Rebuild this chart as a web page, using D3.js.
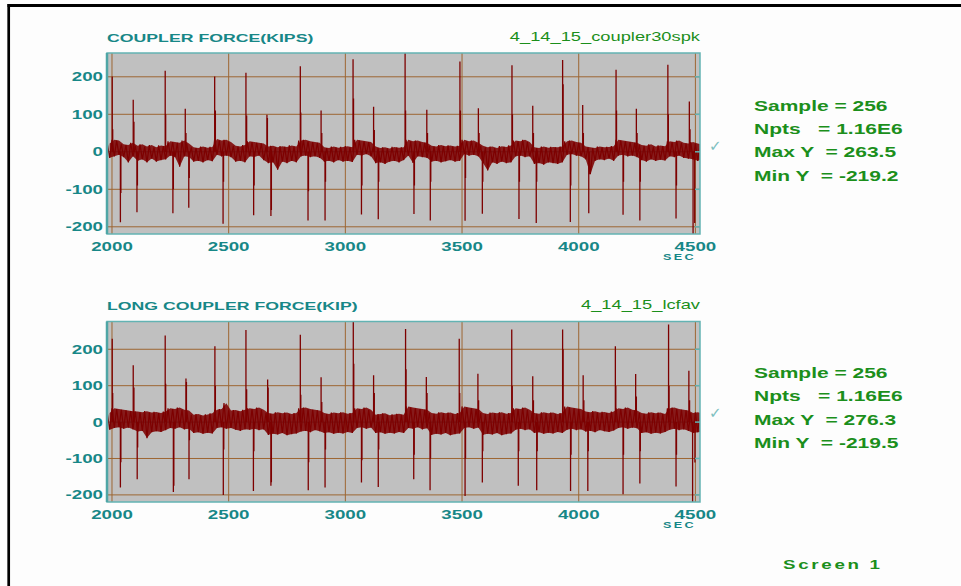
<!DOCTYPE html>
<html>
<head>
<meta charset="utf-8">
<script src="https://cdn.jsdelivr.net/npm/d3@7"></script>
<style>
  html, body { margin: 0; padding: 0; background: #fdfdfd; }
  svg { display: block; }
  text { white-space: pre; }
</style>
</head>
<body>
<svg id="chart" width="961" height="586"></svg>
<script>
// ---- data -------------------------------------------------------------
const xTicks = [2000, 2500, 3000, 3500, 4000, 4500];
const yTicks = [-200, -100, 0, 100, 200];
const timeDomain = [1978.6, 4519.7];

// background noise envelope, one high / low pair per 20 s window from 1980 s
const noiseStart = 1980;
const noiseStep = 20;

const couplerHi = [22, 32, 30, 20, 18, 24, 16, 20, 14, 18, 12, 17, 15, 28, 26, 24, 30, 22,
  12, 10, 14, 11, 13, 34, 30, 32, 26, 16, 14, 18, 28, 26, 24, 22, 14, 16, 12, 15, 13, 17, 14,
  30, 32, 28, 26, 24, 12, 10, 14, 11, 13, 15, 12, 32, 30, 28, 26, 14, 10, 12, 9, 13, 11, 12,
  32, 28, 30, 26, 24, 16, 14, 18, 15, 17, 14, 16, 32, 28, 30, 24, 16, 12, 14, 10, 15, 13, 17,
  30, 28, 32, 26, 12, 10, 14, 11, 13, 12, 14, 28, 30, 26, 24, 14, 12, 10, 14, 12, 13, 15,
  32, 30, 28, 26, 24, 18, 16, 20, 14, 17, 15, 28, 26, 30, 24, 22, 26, 22, 20];
const couplerLo = [-16, -12, -8, -14, -28, -12, -24, -20, -28, -18, -26, -22, -20, -10, -14, -40, -12, -14,
  -26, -24, -28, -22, -25, -8, -12, -10, -14, -26, -24, -28, -12, -14, -10, -22, -30, -28, -48, -26, -30, -24, -28,
  -12, -10, -14, -12, -16, -26, -24, -28, -22, -26, -24, -27, -8, -10, -6, -12, -30, -28, -32, -26, -24, -28, -22,
  -10, -30, -12, -14, -16, -26, -24, -28, -25, -22, -26, -24, -6, -10, -8, -12, -30, -50, -28, -32, -26, -30, -28,
  -12, -10, -14, -12, -32, -30, -34, -28, -30, -32, -28, -8, -6, -10, -12, -20, -60, -24, -20, -22, -18, -24,
  -10, -8, -12, -10, -14, -22, -26, -20, -24, -21, -23, -12, -14, -10, -16, -18, -20, -24, -18];

// impulses: [time s, kips]
const couplerSpikes = [
  [2001, 201], [2003, 60], [2036, -188], [2038, -110],
  [2091, 139], [2094, 80], [2107, -161], [2109, -90],
  [2228, 216], [2230, 100], [2261, -164], [2263, -100],
  [2314, 115], [2317, 50], [2329, -149], [2331, -70],
  [2440, 201], [2443, 110], [2476, -192], [2478, -80],
  [2574, 211], [2577, 97], [2607, -169], [2609, -90],
  [2664, 99], [2666, 90], [2681, -171], [2683, -155],
  [2807, 228], [2809, 105], [2840, -183], [2842, -105],
  [2896, 110], [2899, 50], [2913, -183], [2915, -80],
  [3033, 247], [3035, 142], [3069, -167], [3071, -90],
  [3121, 120], [3124, 58], [3141, -180], [3143, -80],
  [3256, 263.5], [3258, 110], [3294, -166], [3296, -90],
  [3349, 112], [3352, 50], [3364, -183], [3366, -80],
  [3491, 241], [3493, 110], [3513, -184], [3515, -70],
  [3570, 116], [3573, 50], [3587, -165], [3589, -80],
  [3714, 231], [3716, 100], [3744, -179], [3746, -80],
  [3803, 123], [3806, 50], [3818, -190], [3820, -80],
  [3931, 245], [3933, 180], [3964, -187], [3966, -90],
  [4017, 125], [4020, 50], [4043, -164], [4045, -60],
  [4160, 219], [4162, 110], [4190, -168], [4192, -80],
  [4247, 115], [4250, 50], [4262, -183], [4264, -80],
  [4382, 232], [4384, 100], [4417, -178], [4419, -90],
  [4474, 134], [4477, 60], [4490, -219.2], [4497, -190]
];

const longHi = [25, 38, 36, 34, 32, 30, 29, 27, 30, 26, 28, 25, 29, 38, 36, 40, 34, 32,
  20, 22, 18, 21, 24, 34, 36, 52, 32, 33, 30, 34, 38, 36, 40, 34, 25, 23, 27, 24, 26, 22, 25,
  38, 40, 36, 34, 32, 25, 22, 26, 24, 27, 23, 25, 38, 36, 40, 34, 20, 22, 24, 19, 21, 23, 20,
  43, 40, 38, 36, 34, 25, 23, 27, 24, 26, 22, 25, 43, 40, 38, 36, 25, 22, 26, 24, 27, 23, 25,
  38, 36, 40, 34, 25, 23, 27, 24, 26, 22, 25, 43, 40, 38, 36, 29, 27, 30, 26, 28, 25, 29,
  38, 36, 40, 34, 32, 25, 23, 27, 24, 26, 22, 38, 40, 36, 34, 32, 25, 27, 24];
const longLo = [-21, -16, -14, -18, -15, -20, -26, -24, -44, -28, -25, -27, -22, -16, -18, -14, -20, -18,
  -30, -28, -32, -29, -31, -16, -14, -18, -16, -21, -24, -20, -21, -18, -22, -20, -35, -32, -34, -30, -36, -33, -31,
  -26, -24, -28, -22, -25, -30, -28, -32, -29, -31, -27, -30, -16, -14, -18, -15, -30, -28, -32, -29, -31, -27, -30,
  -16, -18, -14, -20, -17, -35, -32, -34, -30, -36, -33, -31, -16, -14, -18, -15, -35, -32, -34, -30, -36, -33, -31,
  -21, -18, -22, -20, -30, -28, -32, -29, -31, -27, -30, -21, -18, -22, -20, -26, -24, -28, -22, -25, -27, -23,
  -16, -14, -18, -15, -17, -30, -28, -32, -29, -31, -27, -21, -18, -22, -20, -24, -30, -28, -26];

const longSpikes = [
  [2001, 229], [2003, 80], [2036, -180], [2038, -110],
  [2091, 156], [2094, 95], [2108, -157], [2110, -70],
  [2228, 238], [2230, 105], [2263, -192], [2265, -175],
  [2317, 120], [2319, 110], [2330, -157], [2332, -50],
  [2441, 208], [2443, 100], [2477, -200], [2479, -75],
  [2574, 253], [2577, 90], [2606, -189], [2608, -80],
  [2667, 117], [2669, 95], [2681, -175], [2683, -165],
  [2807, 240], [2809, 75], [2841, -187], [2843, -110],
  [2896, 123], [2899, 55], [2913, -180], [2915, -75],
  [3034, 276.3], [3036, 160], [3069, -166], [3071, -105],
  [3121, 129], [3124, 80], [3141, -178], [3143, -75],
  [3258, 256], [3260, 145], [3293, -157], [3295, -90],
  [3347, 124], [3350, 80], [3363, -187], [3365, -100],
  [3488, 229], [3490, 80], [3513, -203], [3515, -100],
  [3568, 133], [3571, 60], [3587, -166], [3589, -80],
  [3713, 254], [3715, 100], [3741, -175], [3743, -80],
  [3803, 126], [3806, 60], [3820, -187], [3822, -80],
  [3931, 254], [3933, 200], [3965, -189], [3967, -90],
  [4019, 129], [4022, 60], [4039, -189], [4041, -80],
  [4157, 208], [4159, 100], [4190, -198], [4192, -90],
  [4244, 132], [4247, 70], [4262, -169], [4264, -80],
  [4385, 268], [4387, 100], [4417, -177], [4419, -90],
  [4472, 141], [4475, 60], [4488, -219.5], [4498, -111]
];

const panels = [
  { title: "COUPLER FORCE(KIPS)", file: "4_14_15_coupler30spk",
    hi: couplerHi, lo: couplerLo, spikes: couplerSpikes,
    stats: ["Sample = 256", "Npts   = 1.16E6", "Max Y  = 263.5", "Min Y  = -219.2"],
    yMin: -219.2, yMax: 263.5, top: 53, bottom: 234, statTop: 110.5 },
  { title: "LONG COUPLER FORCE(KIP)", file: "4_14_15_lcfav",
    hi: longHi, lo: longLo, spikes: longSpikes,
    stats: ["Sample = 256", "Npts   = 1.16E6", "Max Y  = 276.3", "Min Y  = -219.5"],
    yMin: -219.5, yMax: 276.3, top: 321.5, bottom: 502, statTop: 378 }
];

// ---- drawing ----------------------------------------------------------
const TEAL = "#178787";
const GREEN = "#1b8f1b";
const GRID = "#9d6632";
const FRAME = "#63b3b3";
const TRACE = "#7d0000";
const SX = 1.5;            // wide raster lettering

const svg = d3.select("#chart");
const left = 107, right = 700;

function label(g, x, y, str, o) {
  return g.append("text")
    .attr("transform", `translate(${x},${y}) scale(${o.sx || SX},1)`)
    .attr("text-anchor", o.anchor || "start")
    .attr("font-family", "'Liberation Sans', Arial, sans-serif")
    .attr("font-weight", o.weight || "bold")
    .attr("font-size", o.size)
    .attr("letter-spacing", o.ls || 0)
    .attr("fill", o.fill)
    .text(str);
}

// page frame
svg.append("line").attr("x1", 7.5).attr("x2", 961).attr("y1", 5.5).attr("y2", 5.5)
  .attr("stroke", "#000").attr("stroke-width", 3);
svg.append("line").attr("x1", 8.7).attr("x2", 8.7).attr("y1", 4).attr("y2", 586)
  .attr("stroke", "#000").attr("stroke-width", 2.7);

panels.forEach((p, k) => {
  const x = d3.scaleLinear().domain(timeDomain).range([left, right]);
  const y = d3.scaleLinear().domain([p.yMin, p.yMax]).range([p.bottom, p.top]);
  const g = svg.append("g");

  g.append("rect").attr("x", left).attr("y", p.top)
    .attr("width", right - left).attr("height", p.bottom - p.top)
    .attr("fill", "#c0c0c0");

  // grid
  g.selectAll(".vg").data(xTicks).join("line")
    .attr("x1", d => x(d)).attr("x2", d => x(d))
    .attr("y1", p.top).attr("y2", p.bottom)
    .attr("stroke", GRID).attr("stroke-width", 1);
  g.selectAll(".hg").data(yTicks).join("line")
    .attr("x1", left).attr("x2", right)
    .attr("y1", d => y(d)).attr("y2", d => y(d))
    .attr("stroke", d => d === 0 ? "#3f6464" : GRID).attr("stroke-width", 1);

  const clipId = "clip" + k;
  svg.append("clipPath").attr("id", clipId).append("rect")
    .attr("x", left).attr("y", p.top - 0.5)
    .attr("width", right - left).attr("height", p.bottom - p.top + 1);
  const plot = g.append("g").attr("clip-path", `url(#${clipId})`);

  // noise envelope: translucent fill plus a zig-zag trace between the extremes
  const band = p.hi.map((h, i) => ({ t: noiseStart + i * noiseStep, hi: h, lo: p.lo[i] }));
  const area = d3.area()
    .x(d => x(d.t + noiseStep / 2)).y0(d => y(d.lo)).y1(d => y(d.hi));
  plot.append("path").datum(band).attr("d", area)
    .attr("fill", TRACE).attr("fill-opacity", 0.86);

  const zig = [];
  band.forEach(d => { zig.push([d.t, d.hi]); zig.push([d.t + noiseStep / 2, d.lo]); });
  plot.append("path").datum(zig)
    .attr("d", d3.line().x(d => x(d[0])).y(d => y(d[1])))
    .attr("fill", "none").attr("stroke", TRACE).attr("stroke-width", 1.2);

  // impulses
  plot.selectAll(".spk").data(p.spikes).join("line")
    .attr("x1", d => x(d[0])).attr("x2", d => x(d[0]))
    .attr("y1", y(0)).attr("y2", d => y(d[1]))
    .attr("stroke", TRACE).attr("stroke-width", 1.3);

  // frame and right-edge ticks
  g.append("rect").attr("x", left).attr("y", p.top)
    .attr("width", right - left).attr("height", p.bottom - p.top)
    .attr("fill", "none").attr("stroke", FRAME).attr("stroke-width", 1.5);
  g.append("line").attr("x1", left).attr("x2", left).attr("y1", p.top).attr("y2", p.bottom)
    .attr("stroke", "#4fa6a6").attr("stroke-width", 2.5);
  g.selectAll(".rt").data(yTicks).join("line")
    .attr("x1", right - 5).attr("x2", right)
    .attr("y1", d => y(d)).attr("y2", d => y(d))
    .attr("stroke", FRAME).attr("stroke-width", 1.5);

  // axis labels
  yTicks.forEach(v => label(g, 103, y(v) + 4.5, String(v), { size: 12.5, fill: TEAL, anchor: "end" }));
  xTicks.forEach(v => label(g, x(v), p.bottom + 16.7, String(v), { size: 12.5, fill: TEAL, anchor: "middle" }));
  label(g, 663, p.bottom + 26, "SEC", { size: 8.4, fill: TEAL, ls: 1.6 });

  // titles
  label(g, left, p.top - 11.3, p.title, { size: 11.8, fill: TEAL });
  label(g, right, p.top - 12.3, p.file, { size: 12.2, fill: GREEN, weight: "normal", anchor: "end" });

  // statistics block
  p.stats.forEach((s, i) => label(g, 754, p.statTop + i * 23.4, s, { size: 14, fill: GREEN }));
  g.append("text").attr("x", 709).attr("y", p.statTop + 40)
    .attr("font-family", "'DejaVu Sans', sans-serif").attr("font-size", 15)
    .attr("fill", "#7cc0c0").text("\u2713");
});

label(svg, 783, 569, "Screen 1", { size: 12.5, fill: GREEN, ls: 1.8 });
</script>
</body>
</html>
